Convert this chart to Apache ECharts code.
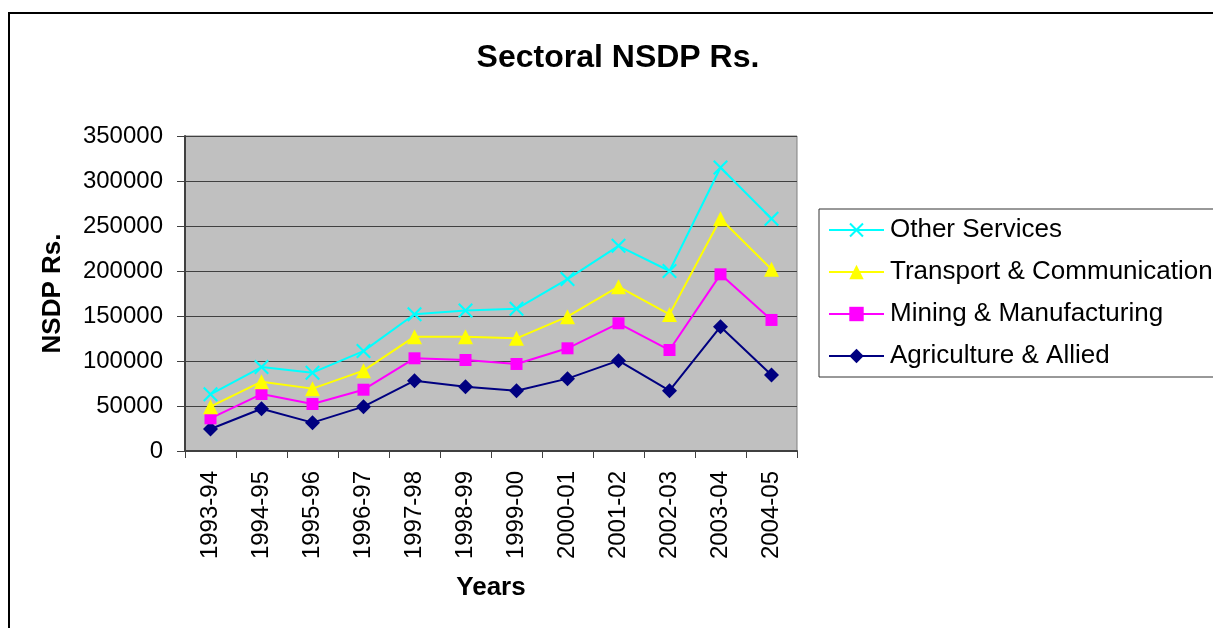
<!DOCTYPE html>
<html>
<head>
<meta charset="utf-8">
<script src="https://cdn.jsdelivr.net/npm/echarts@6/dist/echarts.min.js"></script>
<style>
html,body{margin:0;padding:0;background:#fff;}
#chart{width:1213px;height:628px;}
</style>
</head>
<body>
<div id="chart"></div>
<script>
const years = ['1993-94','1994-95','1995-96','1996-97','1997-98','1998-99','1999-00','2000-01','2001-02','2002-03','2003-04','2004-05'];
const otherServices = [63000, 93300, 87000, 111000, 152000, 156000, 158000, 191000, 228000, 200000, 315000, 258000];
const transportComm = [49300, 77000, 69300, 89300, 127000, 127000, 125200, 149300, 182600, 151800, 258000, 202000];
const miningManuf = [36300, 63300, 52200, 68100, 103000, 101100, 96700, 114100, 141900, 112200, 196300, 145600];
const agriAllied = [24400, 47000, 31500, 49300, 78100, 71500, 67000, 80400, 100400, 67000, 138100, 84400];
const yTicks = [0, 50000, 100000, 150000, 200000, 250000, 300000, 350000];

const FONT = '"Liberation Sans", Arial, sans-serif';
const crossPath = 'path://M0,1 L1,0 L5,4 L9,0 L10,1 L6,5 L10,9 L9,10 L5,6 L1,10 L0,9 L4,5 Z';

const chart = echarts.init(document.getElementById('chart'), null, {renderer: 'canvas'});

function mkSeries(name, data, color, symbol, size) {
  return {
    name: name,
    type: 'line',
    data: data,
    symbol: symbol,
    symbolSize: size,
    showAllSymbol: true,
    lineStyle: {color: color, width: 2},
    itemStyle: {color: color},
    emphasis: {disabled: true},
    animation: false
  };
}

chart.setOption({
  animation: false,
  textStyle: {fontFamily: FONT},
  title: {
    text: 'Sectoral NSDP Rs.',
    left: 613,
    top: 37,
    textAlign: 'center',
    textStyle: {fontFamily: FONT, fontSize: 32, fontWeight: 'bold', color: '#000'}
  },
  graphic: [{
    type: 'rect',
    shape: {x: 9, y: 13, width: 1300, height: 700},
    style: {fill: 'none', stroke: '#000', lineWidth: 2},
    silent: true
  }],
  legend: {
    orient: 'vertical',
    left: 819,
    top: 209,
    padding: [8, 12, 8, 9],
    itemGap: 16,
    itemWidth: 55,
    itemHeight: 18,
    borderColor: '#333',
    borderWidth: 1,
    backgroundColor: '#fff',
    selectedMode: false,
    data: ['Other Services', 'Transport & Communication', 'Mining & Manufacturing', 'Agriculture & Allied'],
    textStyle: {fontFamily: FONT, fontSize: 26, color: '#000', padding: [0, 0, 0, 1]}
  },
  grid: {
    left: 185,
    top: 136,
    right: 416,
    bottom: 177,
    show: true,
    backgroundColor: '#C0C0C0',
    borderColor: '#808080',
    borderWidth: 1,
    containLabel: false
  },
  xAxis: {
    type: 'category',
    data: years,
    boundaryGap: true,
    name: 'Years',
    nameLocation: 'middle',
    nameGap: 124,
    nameTextStyle: {fontFamily: FONT, fontSize: 26, fontWeight: 'bold', color: '#000'},
    axisLine: {show: true, lineStyle: {color: '#404040', width: 2}},
    axisTick: {show: true, interval: 0, length: 7, lineStyle: {color: '#404040', width: 1}},
    axisLabel: {interval: 0, rotate: 90, margin: 20, fontFamily: FONT, fontSize: 24, color: '#000'},
    splitLine: {show: false}
  },
  yAxis: {
    type: 'value',
    min: 0,
    max: 350000,
    interval: 50000,
    name: 'NSDP Rs.',
    nameLocation: 'middle',
    nameRotate: 90,
    nameGap: 119,
    nameTextStyle: {fontFamily: FONT, fontSize: 26, fontWeight: 'bold', color: '#000'},
    axisLine: {show: true, lineStyle: {color: '#404040', width: 2}},
    axisTick: {show: true, length: 8, lineStyle: {color: '#404040', width: 1}},
    axisLabel: {
      margin: 22,
      fontFamily: FONT,
      fontSize: 24,
      color: '#000',
      formatter: function (v) { return yTicks.indexOf(v) >= 0 ? String(v) : ''; }
    },
    splitLine: {show: true, lineStyle: {color: '#404040', width: 1}}
  },
  series: [
    mkSeries('Agriculture & Allied', agriAllied, '#000080', 'diamond', 15),
    mkSeries('Mining & Manufacturing', miningManuf, '#FF00FF', 'rect', 12),
    mkSeries('Transport & Communication', transportComm, '#FFFF00', 'triangle', 15),
    mkSeries('Other Services', otherServices, '#00FFFF', crossPath, 15)
  ]
});
</script>
</body>
</html>
